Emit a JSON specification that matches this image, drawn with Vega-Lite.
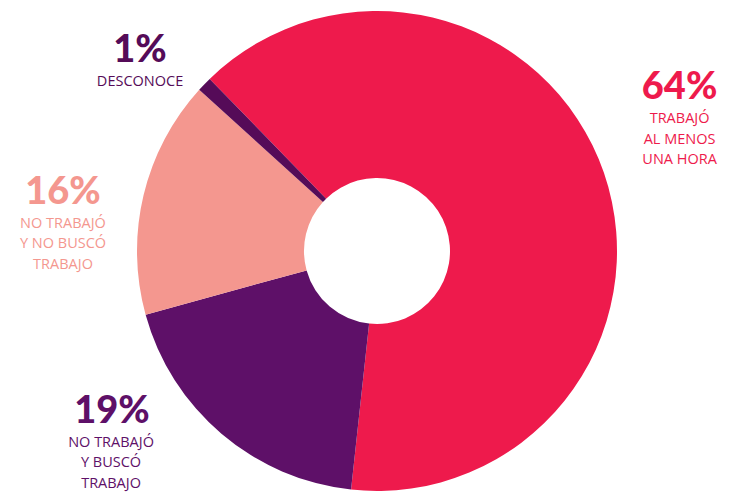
{
  "$schema": "https://vega.github.io/schema/vega-lite/v6.json",
  "width": 700,
  "height": 480,
  "autosize": {"type": "none"},
  "padding": {"left": 27, "top": 11, "right": 4, "bottom": 2},
  "background": "white",
  "view": {"stroke": null},
  "data": {
    "values": [
      {"cat": "Trabajó al menos una hora", "pct": 64, "order": 1, "pctLabel": "64%", "desc": "TRABAJÓ\nAL MENOS\nUNA HORA"},
      {"cat": "No trabajó y buscó trabajo", "pct": 19, "order": 2, "pctLabel": "19%", "desc": "NO TRABAJÓ\nY BUSCÓ\nTRABAJO"},
      {"cat": "No trabajó y no buscó trabajo", "pct": 16, "order": 3, "pctLabel": "16%", "desc": "NO TRABAJÓ\nY NO BUSCÓ\nTRABAJO"},
      {"cat": "Desconoce", "pct": 1, "order": 4, "pctLabel": "1%", "desc": "DESCONOCE"}
    ]
  },
  "encoding": {
    "theta": {"field": "pct", "type": "quantitative", "stack": true, "scale": {"range": [-0.7714, 5.5118]}},
    "order": {"field": "order", "type": "quantitative", "sort": "ascending"},
    "color": {
      "field": "cat",
      "type": "nominal",
      "scale": {
        "domain": ["Trabajó al menos una hora", "No trabajó y buscó trabajo", "No trabajó y no buscó trabajo", "Desconoce"],
        "range": ["#EE1A4C", "#5E1068", "#F4978F", "#550B58"]
      },
      "legend": null
    }
  },
  "layer": [
    {"mark": {"type": "arc", "outerRadius": 240, "innerRadius": 73}},
    {
      "mark": {"type": "text", "radius": 320, "dx": 0, "dy": -47.8, "font": "Lato", "fontWeight": 900, "fontSize": 38, "align": "center", "baseline": "alphabetic"},
      "encoding": {"text": {"condition": {"test": "datum.order === 1", "field": "pctLabel"}, "value": ""}}
    },
    {
      "mark": {"type": "text", "radius": 320, "dx": 0, "dy": -23.8, "font": "Open Sans", "fontSize": 14.5, "lineBreak": "\n", "lineHeight": 20.5, "align": "center", "baseline": "alphabetic"},
      "encoding": {"text": {"condition": {"test": "datum.order === 1", "field": "desc"}, "value": ""}}
    },
    {
      "mark": {"type": "text", "radius": 300, "dx": -70.6, "dy": -56.5, "font": "Lato", "fontWeight": 900, "fontSize": 38, "align": "center", "baseline": "alphabetic"},
      "encoding": {"text": {"condition": {"test": "datum.order === 2", "field": "pctLabel"}, "value": ""}}
    },
    {
      "mark": {"type": "text", "radius": 300, "dx": -71.5, "dy": -32.5, "font": "Open Sans", "fontSize": 14.5, "lineBreak": "\n", "lineHeight": 20.5, "align": "center", "baseline": "alphabetic"},
      "encoding": {"text": {"condition": {"test": "datum.order === 2", "field": "desc"}, "value": ""}}
    },
    {
      "mark": {"type": "text", "radius": 320, "dx": -2.7, "dy": 27.1, "font": "Lato", "fontWeight": 900, "fontSize": 38, "align": "center", "baseline": "alphabetic"},
      "encoding": {"text": {"condition": {"test": "datum.order === 3", "field": "pctLabel"}, "value": ""}}
    },
    {
      "mark": {"type": "text", "radius": 320, "dx": -2.7, "dy": 51.1, "font": "Open Sans", "fontSize": 14.5, "lineBreak": "\n", "lineHeight": 20.5, "align": "center", "baseline": "alphabetic"},
      "encoding": {"text": {"condition": {"test": "datum.order === 3", "field": "desc"}, "value": ""}}
    },
    {
      "mark": {"type": "text", "radius": 310, "dx": -14, "dy": 26.4, "font": "Lato", "fontWeight": 900, "fontSize": 38, "align": "center", "baseline": "alphabetic"},
      "encoding": {"text": {"condition": {"test": "datum.order === 4", "field": "pctLabel"}, "value": ""}}
    },
    {
      "mark": {"type": "text", "radius": 310, "dx": -14, "dy": 50.4, "font": "Open Sans", "fontSize": 14.5, "lineBreak": "\n", "lineHeight": 20.5, "align": "center", "baseline": "alphabetic"},
      "encoding": {"text": {"condition": {"test": "datum.order === 4", "field": "desc"}, "value": ""}}
    }
  ]
}
